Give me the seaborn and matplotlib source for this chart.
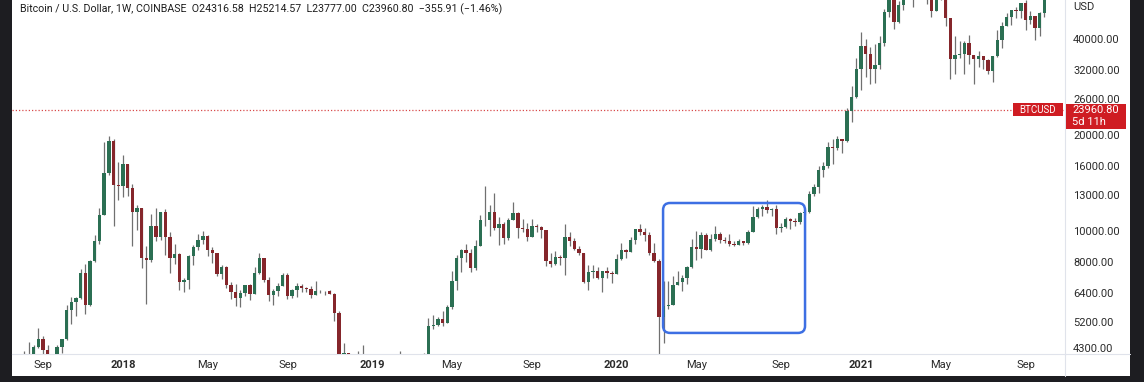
import matplotlib
matplotlib.use("Agg")
import numpy as np
import pandas as pd
import matplotlib.pyplot as plt
from matplotlib.patches import Rectangle, FancyBboxPatch
from matplotlib.lines import Line2D
from matplotlib.ticker import NullLocator
from matplotlib.transforms import IdentityTransform
import seaborn as sns

# weekly BTC/USD candles (Coinbase, 1W), first bar = week of 2017-08-07
first_week = "2017-08-07"

open_ = [3220, 4060, 4090, 4340, 4590, 4230, 3690, 3630, 4330, 4600,
         5650, 6000, 6150, 7400, 5850, 8050, 9300, 11200, 15200, 19200,
         13900, 13800, 16200, 13600, 11500, 11800, 8200, 8100, 10400, 9600,
         11470, 9550, 8200, 8450, 6930, 7020, 8350, 8920, 9400, 9650,
         8700, 8520, 7350, 7700, 6770, 6450, 6150, 6390, 6750, 6360,
         7400, 8200, 7030, 6310, 6490, 6720, 7300, 6240, 6510, 6710,
         6630, 6590, 6300, 6500, 6480, 6480, 6350, 5550, 4010, 4140,
         3570, 3200, 3950, 3830, 4060, 3510, 3540, 3530, 3410, 3660,
         3620, 3750, 3810, 3920, 3980, 3990, 4100, 5050, 5070, 5280,
         5150, 5770, 6950, 8200, 8740, 8550, 7650, 8950, 10850, 10800,
         11450, 10250, 10550, 9500, 10800, 11370, 10200, 10140, 9600, 10400,
         10300, 10050, 8050, 7870, 8300, 8230, 9550, 9300, 8800, 8500,
         6900, 7420, 7500, 7100, 7500, 7390, 7350, 8190, 8700, 8600,
         9350, 10150, 9900, 9680, 8530, 8040, 5360, 5830, 5880, 6780,
         6900, 7130, 7700, 8900, 8750, 9680, 8720, 9450, 9750, 9340,
         9300, 9120, 9070, 9300, 9160, 9940, 11070, 11680, 11880, 11650,
         11700, 10250, 10320, 10930, 10780, 10670, 11380, 11500, 13030, 13740,
         15480, 15970, 18400, 18200, 19380, 19170, 23860, 26250, 32200, 38150,
         36000, 32300, 33100, 38800, 48600, 57500, 45200, 51200, 59000, 57600,
         55800, 58200, 59800, 56200, 49100, 56600, 58200, 46400, 34700, 35600,
         35800, 39000, 35600, 34700, 35300, 34250, 31800, 35400, 39850, 43800,
         47050, 49300, 48800, 51800, 46000, 47300, 43200, 48200]

high = [4190, 4480, 4400, 4980, 4700, 4400, 4100, 4380, 4600, 5860,
        6200, 6200, 7600, 7900, 8100, 9700, 11800, 19000, 19900, 19450,
        16500, 17250, 16250, 14000, 12050, 11800, 9000, 11300, 11800, 11500,
        11700, 9950, 9100, 8500, 7100, 8430, 9050, 9750, 9990, 9680,
        8890, 8530, 7800, 7770, 6900, 6820, 6550, 6770, 6800, 7700,
        8500, 8250, 7150, 6600, 6880, 7400, 7400, 6600, 6850, 6800,
        6680, 6700, 6950, 6550, 6500, 6550, 6400, 5600, 4450, 4150,
        3600, 4200, 4400, 4100, 4100, 3800, 3650, 3550, 3680, 3720,
        4200, 3900, 3950, 4000, 4080, 4150, 5350, 5470, 5370, 5630,
        5850, 7500, 8380, 8750, 9100, 8800, 9400, 11200, 13870, 12100,
        13200, 11100, 10650, 10950, 12330, 11450, 10900, 10600, 10920, 10500,
        10350, 10050, 8500, 8650, 8430, 10500, 9950, 9500, 9000, 8500,
        7850, 7800, 7700, 7500, 7700, 7500, 8450, 9200, 8750, 9600,
        10150, 10500, 10250, 9960, 9190, 8180, 6950, 6950, 7200, 7470,
        7300, 7750, 9450, 10000, 9950, 9850, 9750, 10380, 9950, 9560,
        9780, 9300, 9450, 9300, 10100, 12000, 11900, 12090, 12480, 11800,
        12100, 10630, 11100, 10990, 10960, 11500, 11730, 13350, 14090, 15970,
        16480, 18950, 19500, 19920, 19420, 24300, 28420, 34800, 41950, 40100,
        37850, 38500, 40950, 49700, 58400, 57500, 52600, 61800, 60700, 58400,
        60000, 61300, 64900, 57200, 58500, 59500, 59600, 46700, 40900, 39500,
        39300, 41300, 35750, 36600, 35300, 34700, 35400, 42600, 45300, 48200,
        49400, 50500, 51900, 52900, 48800, 47300, 48500, 56500]

low = [3200, 3950, 3980, 4300, 3970, 2970, 3580, 3580, 4150, 4560,
       5100, 5400, 6100, 5500, 5800, 8000, 9100, 11200, 15000, 10400,
       12500, 12750, 12900, 9000, 10050, 7650, 5920, 8000, 9300, 9400,
       8400, 7390, 7900, 6530, 6450, 6600, 7850, 8700, 9100, 8350,
       7950, 7250, 7050, 6630, 6120, 5800, 5770, 6250, 6070, 6350,
       7350, 6900, 6050, 5880, 6250, 6700, 6100, 6170, 6220, 6420,
       6440, 6150, 6300, 6400, 6300, 6340, 5220, 3550, 3550, 3300,
       3200, 3180, 3620, 3650, 3500, 3470, 3500, 3380, 3350, 3570,
       3600, 3690, 3700, 3820, 3960, 3900, 4100, 4920, 5030, 5050,
       5140, 5700, 6550, 7450, 8000, 7450, 7550, 8950, 10350, 9650,
       10100, 9050, 9120, 9350, 10800, 9480, 9900, 9330, 9600, 9950,
       9500, 7750, 7700, 7800, 7850, 7300, 8980, 8700, 8400, 6850,
       6550, 7100, 7050, 6450, 7100, 6850, 7350, 8100, 8250, 8570,
       9100, 9700, 9300, 8400, 8000, 3850, 4440, 5700, 5860, 6750,
       6470, 6800, 7640, 8100, 8200, 8700, 8650, 9300, 9200, 9200,
       8950, 8950, 9050, 9060, 9100, 9900, 10950, 11150, 11360, 11150,
       9800, 9900, 10200, 10150, 10370, 10530, 11200, 11420, 12880, 13200,
       14800, 15800, 16200, 18000, 17600, 19000, 21900, 26100, 27700, 30400,
       28850, 29200, 32300, 37900, 47000, 43000, 44950, 49300, 53300, 50300,
       55700, 55500, 51500, 47000, 48800, 52900, 43800, 30000, 31000, 34800,
       31100, 33300, 28800, 32700, 32100, 31100, 29300, 35200, 37500, 43800,
       44200, 46400, 46500, 42800, 44700, 39600, 40800, 46900]

close = [4060, 4090, 4340, 4590, 4230, 3690, 3630, 4330, 4600, 5650,
         6000, 6150, 7400, 5850, 8050, 9300, 11200, 15200, 19200, 13900,
         13800, 16200, 13600, 11500, 11800, 8200, 8100, 10400, 9600, 11470,
         9550, 8200, 8450, 6930, 7020, 8350, 8920, 9400, 9650, 8700,
         8520, 7350, 7700, 6770, 6450, 6150, 6390, 6750, 6360, 7400,
         8200, 7030, 6310, 6490, 6720, 7300, 6240, 6510, 6710, 6630,
         6590, 6300, 6500, 6480, 6480, 6350, 5550, 4010, 4140, 3570,
         3200, 3950, 3830, 4060, 3510, 3540, 3530, 3410, 3660, 3620,
         3750, 3810, 3920, 3980, 3990, 4100, 5050, 5070, 5280, 5150,
         5770, 6950, 8200, 8740, 8550, 7650, 8950, 10850, 10800, 11450,
         10250, 10550, 9500, 10800, 11370, 10200, 10140, 9600, 10400, 10300,
         10050, 8050, 7870, 8300, 8230, 9550, 9300, 8800, 8500, 6900,
         7420, 7500, 7100, 7500, 7390, 7350, 8190, 8700, 8600, 9350,
         10150, 9900, 9680, 8530, 8040, 5360, 5830, 5880, 6780, 6900,
         7130, 7700, 8900, 8750, 9680, 8720, 9450, 9750, 9340, 9300,
         9120, 9070, 9300, 9160, 9940, 11070, 11680, 11880, 11650, 11700,
         10250, 10320, 10930, 10780, 10670, 11380, 11500, 13030, 13740, 15480,
         15970, 18400, 18200, 19380, 19170, 23860, 26250, 32200, 38150, 36000,
         32300, 33100, 38800, 48600, 57500, 45200, 51200, 59000, 57600, 55800,
         58200, 59800, 56200, 49100, 56600, 58200, 46400, 34700, 35600, 35800,
         39000, 35600, 34700, 35300, 34250, 31800, 35400, 39850, 43800, 47050,
         49300, 48800, 51800, 46000, 47300, 43200, 48200, 54700]

price_ticks = [4300, 5200, 6400, 8000, 10000, 13000, 16000, 20000, 26000, 32000, 40000]
label_months = [1, 5, 9]

header = ("Bitcoin / U.S. Dollar, 1W, COINBASE  O24316.58  H25214.57  "
          "L23777.00  C23960.80  \u2212355.91 (\u22121.46%)")
last_price = 23960.80
countdown = "5d 11h"
symbol = "BTCUSD"

# hand-drawn highlight box (week index range, price range)
box_weeks = (135.9, 166.1)
box_prices = (4790, 12240)

W, H = 1144, 382
sns.set_theme(style="white")
plt.rcParams["font.family"] = ["Roboto", "DejaVu Sans"]

df = pd.DataFrame({"open": open_, "high": high, "low": low, "close": close})
df["week"] = pd.date_range(first_week, periods=len(df), freq="W-MON")
df["x"] = np.arange(len(df))
up = df["close"] >= df["open"]

fig = plt.figure(figsize=(W / 100, H / 100), dpi=100)
fig.patch.set_facecolor("#1d1d21")
fig.add_artist(Rectangle((12 / W, 6 / H), (1130 - 12) / W, 376 / H,
                         transform=fig.transFigure, facecolor="white",
                         edgecolor="none", zorder=0))

ax = fig.add_axes([12 / W, 28 / H, (1065 - 12) / W, (H - 28) / H])
ax.set_facecolor("white")
ax.set_yscale("log")
ax.set_xlim(-2.6, 221.4)
ax.set_ylim(4114, 53010)

green, red, wick = "#2b6f53", "#85262b", "#707070"
ax.vlines(df["x"], df["low"], df["high"], colors=wick, lw=0.9, zorder=2)
body_lo = np.minimum(df["open"], df["close"])
body_h = np.abs(df["close"] - df["open"])
ax.bar(df["x"], body_h, bottom=body_lo, width=0.72,
       color=np.where(up, green, red), linewidth=0, zorder=3)

ax.axhline(last_price, color="#d84a4a", lw=0.9, ls=(0, (1, 1.6)), zorder=1)

# x ticks at first bar of Jan / May / Sep
new_month = df["week"].dt.month != df["week"].dt.month.shift()
new_month.iloc[0] = False
sel = df[new_month & df["week"].dt.month.isin(label_months)]
ax.set_xticks(sel["x"])
ax.set_xticklabels([str(d.year) if d.month == 1 else d.strftime("%b") for d in sel["week"]])
for lab, d in zip(ax.get_xticklabels(), sel["week"]):
    if d.month == 1:
        lab.set_fontweight("bold")
ax.tick_params(axis="x", length=0, pad=4.5, labelsize=8, labelcolor="#2b2b2b")

ax.yaxis.tick_right()
ax.set_yticks(price_ticks)
ax.set_yticklabels([f"{v:.2f}" for v in price_ticks])
ax.yaxis.set_minor_locator(NullLocator())
ax.tick_params(axis="y", length=0, pad=5.8, labelsize=8, labelcolor="#2b2b2b")

for side in ["top", "left"]:
    ax.spines[side].set_visible(False)
for side in ["bottom", "right"]:
    ax.spines[side].set_color("#e0e3eb")
    ax.spines[side].set_linewidth(0.8)
fig.add_artist(Line2D([1065 / W, 1130 / W], [28 / H, 28 / H], transform=fig.transFigure,
                      color="#e0e3eb", lw=0.8))
fig.add_artist(Line2D([1065 / W, 1065 / W], [6 / H, 28 / H], transform=fig.transFigure,
                      color="#e0e3eb", lw=0.8))

fig.text(20 / W, 1 - 9 / H, header, fontsize=7.65, color="#1e1e1e", va="center", ha="left")
fig.text(1073 / W, 1 - 7 / H, "USD", fontsize=8, color="#2b2b2b", va="center", ha="left")

# price tags on the current-price line
fig.canvas.draw()
ypix = ax.transData.transform((0, last_price))[1]
tag_red = "#cf1c22"
fig.add_artist(Rectangle((1013, ypix - 6.5), 50, 13, transform=IdentityTransform(),
                         facecolor=tag_red, edgecolor="none", zorder=5))
fig.text(1038 / W, ypix / H, symbol, fontsize=7, color="white", ha="center", va="center", zorder=6)
fig.add_artist(Rectangle((1066, ypix - 19), 60, 25, transform=IdentityTransform(),
                         facecolor=tag_red, edgecolor="none", zorder=5))
fig.text(1072 / W, ypix / H, f"{last_price:.2f}", fontsize=8, color="white",
         ha="left", va="center", zorder=6)
fig.text(1072 / W, (ypix - 12) / H, countdown, fontsize=8, color="white",
         ha="left", va="center", zorder=6)

# blue hand-drawn highlight
(x0, y0) = ax.transData.transform((box_weeks[0], box_prices[0]))
(x1, y1) = ax.transData.transform((box_weeks[1], box_prices[1]))
fig.add_artist(FancyBboxPatch((x0, y0), x1 - x0, y1 - y0,
                              boxstyle="round,pad=0,rounding_size=7",
                              transform=IdentityTransform(), facecolor="none",
                              edgecolor="#3d6fe3", lw=1.8, zorder=7))

fig.savefig("out.png", dpi=100, facecolor=fig.get_facecolor())
